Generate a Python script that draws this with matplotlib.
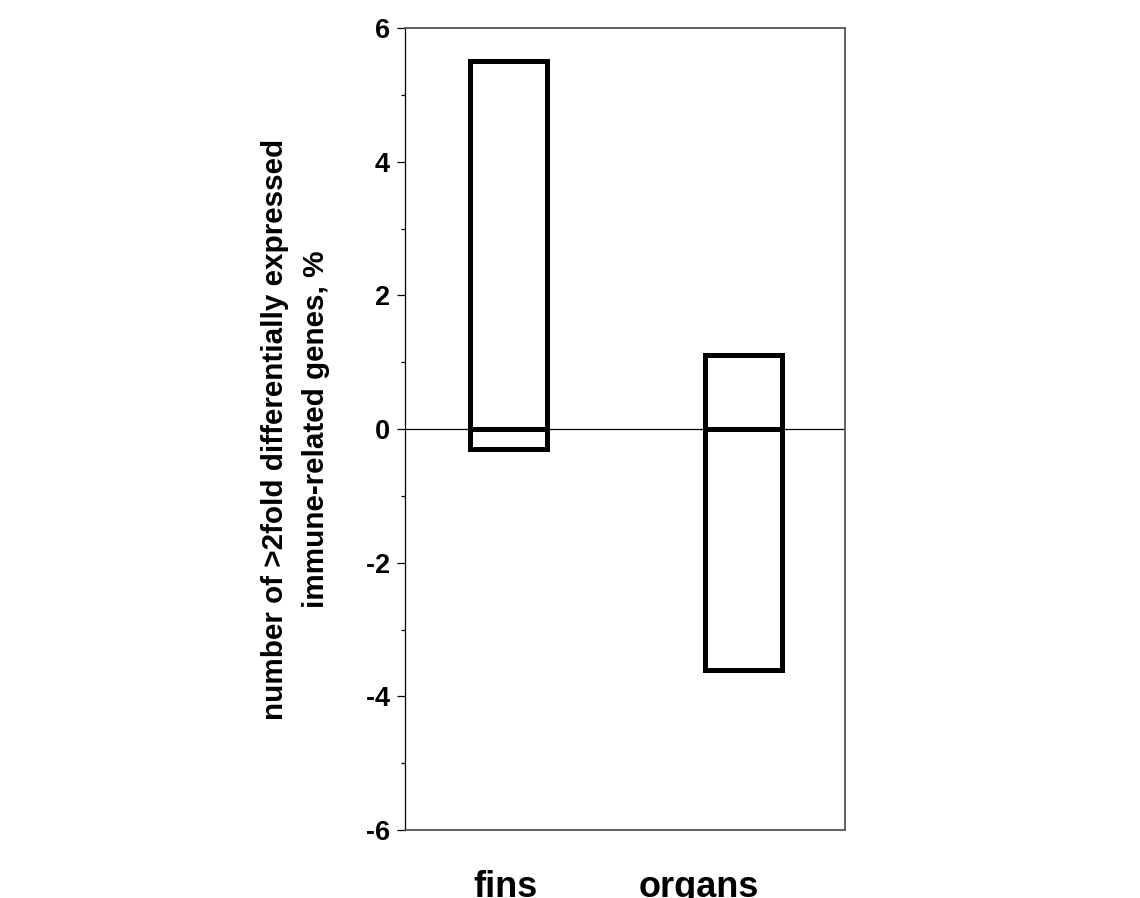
import matplotlib
matplotlib.use("Agg")
import matplotlib.pyplot as plt
from matplotlib.ticker import MultipleLocator

plt.rcParams['font.family'] = ['Liberation Sans', 'DejaVu Sans']
plt.rcParams['font.weight'] = 'bold'

categories = ["fins", "organs"]
up_values = [5.5, 1.1]      # percentage up-regulated
down_values = [-0.3, -3.6]  # percentage down-regulated
y_ticks = [-6, -4, -2, 0, 2, 4, 6]

fig = plt.figure(figsize=(11.4, 8.98), dpi=100)
ax = fig.add_axes([405/1140, 1-830/898, 440/1140, 802/898])

xpos = [0, 1]
width = 0.327
ax.bar(xpos, up_values, width=width, bottom=0, facecolor='white', edgecolor='black', linewidth=3.6, zorder=3)
ax.bar(xpos, down_values, width=width, bottom=0, facecolor='white', edgecolor='black', linewidth=3.6, zorder=3)
ax.axhline(0, color='black', linewidth=0.9, zorder=2)

ax.set_xlim(-0.4395, 1.429)
ax.set_ylim(-6, 6)
ax.set_yticks(y_ticks)
ax.set_yticklabels([str(t) for t in y_ticks], fontsize=19.5, fontweight='bold')
ax.yaxis.set_minor_locator(MultipleLocator(1))
ax.tick_params(axis='y', which='major', length=5.8, width=0.9, direction='out', pad=5)
ax.tick_params(axis='y', which='minor', length=2.9, width=0.9, direction='out')

label_pos = [-0.011, 0.809]
ax.set_xticks(label_pos)
ax.set_xticklabels(categories, fontsize=26, fontweight='bold')
ax.tick_params(axis='x', length=0, pad=29)

ax.spines['left'].set_color('black')
ax.spines['left'].set_linewidth(0.9)
for s in ['top', 'right', 'bottom']:
    ax.spines[s].set_color('#555555')
    ax.spines[s].set_linewidth(1.3)

ax.set_ylabel("number of >2fold differentially expressed\nimmune-related genes, %",
              fontsize=21.3, fontweight='bold', linespacing=1.6, labelpad=26)

fig.savefig("out.png", dpi=100)
